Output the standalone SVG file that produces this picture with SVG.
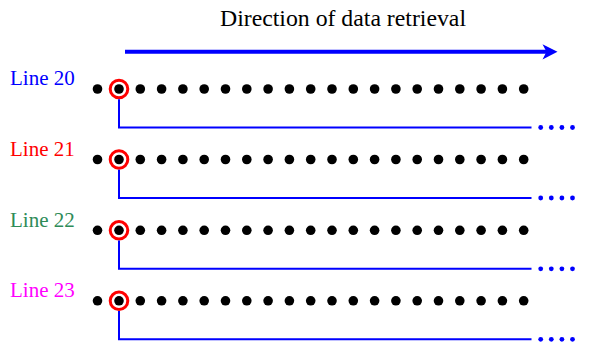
<svg xmlns="http://www.w3.org/2000/svg" xmlns:xlink="http://www.w3.org/1999/xlink" width="589" height="346" viewBox="0 0 589 346">
<style>
text{font-family:"Liberation Serif","Times New Roman",serif}
.lbl{font-size:21px}
.dot{fill:#000}
.ring{fill:none;stroke:#ff0000;stroke-width:3}
.conn{fill:none;stroke:#0000ff;stroke-width:2}
.bdot{fill:#0000ff}
</style>
<defs>
<g id="dots">
<circle class="dot" cx="97.5" cy="0" r="4.8"/>
<circle class="dot" cx="119" cy="0" r="4.8"/>
<circle class="dot" cx="140.3" cy="0" r="4.8"/>
<circle class="dot" cx="161.6" cy="0" r="4.8"/>
<circle class="dot" cx="182.9" cy="0" r="4.8"/>
<circle class="dot" cx="204.2" cy="0" r="4.8"/>
<circle class="dot" cx="225.5" cy="0" r="4.8"/>
<circle class="dot" cx="246.8" cy="0" r="4.8"/>
<circle class="dot" cx="268.1" cy="0" r="4.8"/>
<circle class="dot" cx="289.4" cy="0" r="4.8"/>
<circle class="dot" cx="310.7" cy="0" r="4.8"/>
<circle class="dot" cx="332" cy="0" r="4.8"/>
<circle class="dot" cx="353.3" cy="0" r="4.8"/>
<circle class="dot" cx="374.6" cy="0" r="4.8"/>
<circle class="dot" cx="395.9" cy="0" r="4.8"/>
<circle class="dot" cx="417.2" cy="0" r="4.8"/>
<circle class="dot" cx="438.5" cy="0" r="4.8"/>
<circle class="dot" cx="459.8" cy="0" r="4.8"/>
<circle class="dot" cx="481.1" cy="0" r="4.8"/>
<circle class="dot" cx="502.4" cy="0" r="4.8"/>
<circle class="dot" cx="523.7" cy="0" r="4.8"/>
<circle class="ring" cx="119" cy="0" r="8.8"/>
</g>
<g id="conn">
<path class="conn" d="M119,10.3 V38.5 H531.5"/>
<circle class="bdot" cx="540.7" cy="38.5" r="2.4"/>
<circle class="bdot" cx="551.3" cy="38.5" r="2.4"/>
<circle class="bdot" cx="561.9" cy="38.5" r="2.4"/>
<circle class="bdot" cx="572.5" cy="38.5" r="2.4"/>
</g>
</defs>
<g id="title">
<text x="220" y="25.5" font-size="24" textLength="246" lengthAdjust="spacingAndGlyphs">Direction of data retrieval</text>
<path d="M125,51.8 H548" stroke="#0000ff" stroke-width="4" fill="none"/>
<path d="M557.5,51.8 L542.5,44.2 L546.5,51.8 L542.5,59.4 Z" fill="#0000ff"/>
</g>
<g id="line20">
<text class="lbl" x="10" y="85" fill="#0000ff">Line 20</text>
<use xlink:href="#dots" y="89"/>
</g>
<g id="line21">
<text class="lbl" x="10" y="155.5" fill="#ff0000">Line 21</text>
<use xlink:href="#dots" y="159.5"/>
</g>
<g id="line22">
<text class="lbl" x="10" y="226.5" fill="#2e8b57">Line 22</text>
<use xlink:href="#dots" y="230.3"/>
</g>
<g id="line23">
<text class="lbl" x="10" y="297" fill="#ff00ff">Line 23</text>
<use xlink:href="#dots" y="300.8"/>
</g>
<g id="connectors">
<use xlink:href="#conn" y="89"/>
<use xlink:href="#conn" y="159.5"/>
<use xlink:href="#conn" y="230.3"/>
<use xlink:href="#conn" y="300.8"/>
</g>
</svg>
